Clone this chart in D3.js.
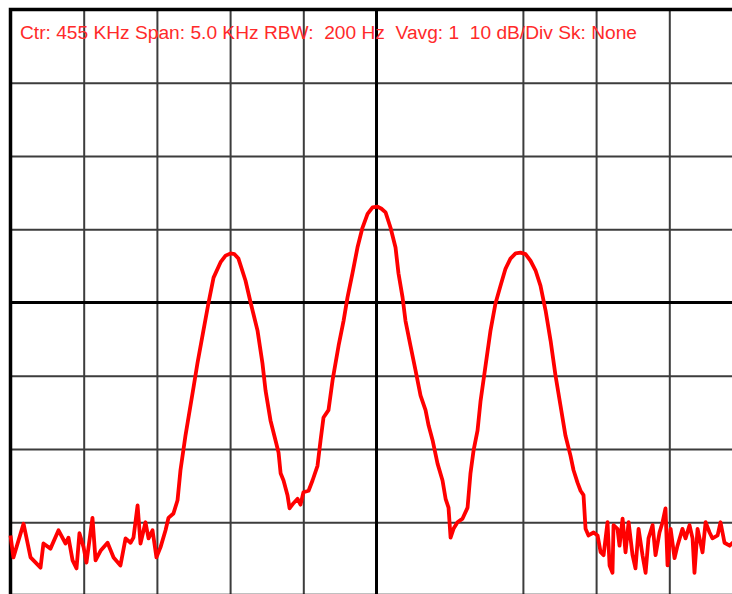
<!DOCTYPE html>
<html>
<head>
<meta charset="utf-8">
<script src="https://cdn.jsdelivr.net/npm/d3@7"></script>
<style>
  html, body { margin: 0; padding: 0; background: #fff; }
  svg { display: block; }
  .grid line { stroke: #3c3c3c; stroke-width: 2; }
  .grid path { display: none; }
  .header { font-family: "Liberation Sans", Arial, sans-serif; font-size: 18px; fill: #ff2a2a; }
</style>
</head>
<body>
<div id="chart"></div>
<script>
document.addEventListener("DOMContentLoaded", () => {
    // trace: frequency (kHz) and level (dB, top line = 0)
    var freqKHz = [
        452.500, 452.520, 452.589, 452.637, 452.705, 452.725, 452.773, 452.828, 452.876, 452.896,
        452.924, 452.951, 452.971, 452.999, 453.019, 453.060, 453.081, 453.115, 453.163, 453.204,
        453.251, 453.286, 453.320, 453.340, 453.368, 453.388, 453.422, 453.443, 453.470, 453.497,
        453.525, 453.559, 453.579, 453.613, 453.641, 453.661, 453.695, 453.750, 453.777, 453.818,
        453.853, 453.887, 453.935, 453.969, 454.003, 454.030, 454.057, 454.105, 454.140, 454.187,
        454.221, 454.242, 454.276, 454.310, 454.331, 454.345, 454.365, 454.392, 454.406, 454.433,
        454.461, 454.481, 454.501, 454.536, 454.563, 454.597, 454.618, 454.638, 454.672, 454.700,
        454.741, 454.775, 454.802, 454.836, 454.870, 454.904, 454.939, 454.973, 455.007, 455.034,
        455.062, 455.096, 455.130, 455.150, 455.178, 455.198, 455.232, 455.267, 455.301, 455.335,
        455.356, 455.383, 455.417, 455.451, 455.472, 455.492, 455.506, 455.526, 455.553, 455.588,
        455.622, 455.642, 455.663, 455.690, 455.711, 455.745, 455.779, 455.813, 455.847, 455.881,
        455.915, 455.950, 455.984, 456.018, 456.052, 456.086, 456.120, 456.155, 456.189, 456.223,
        456.257, 456.291, 456.325, 456.346, 456.373, 456.394,
        456.414, 456.428, 456.448, 456.483, 456.510, 456.531, 456.551, 456.578, 456.592, 456.612,
        456.619, 456.646, 456.660, 456.681, 456.701, 456.722, 456.749, 456.769, 456.790, 456.817,
        456.838, 456.858, 456.886, 456.906, 456.933, 456.954, 456.974, 456.988, 457.009, 457.036,
        457.056, 457.090, 457.111, 457.138, 457.159, 457.172, 457.193, 457.227, 457.248, 457.275,
        457.295, 457.330, 457.350, 457.377, 457.412, 457.432, 457.500
    ];
    var levelDb = [
        -71.8, -74.8, -70.2, -74.8, -76.2, -72.9, -73.6, -71.1, -72.9, -72.1,
        -75.2, -76.3, -71.5, -73.4, -75.5, -69.4, -75.2, -73.9, -72.8, -74.8,
        -75.9, -72.2, -72.8, -72.1, -67.7, -72.9, -70.0, -72.2, -71.1, -74.8,
        -73.4, -71.1, -69.4, -68.8, -67.0, -62.9, -58.2, -51.6, -48.3, -43.8,
        -40.0, -36.6, -34.5, -33.6, -33.3, -33.4, -34.0, -37.0, -40.0, -43.8,
        -48.3, -52.0, -56.1, -58.8, -60.5, -63.3, -64.3, -66.3, -68.1, -67.4,
        -66.8, -67.6, -65.9, -65.7, -64.3, -62.3, -58.8, -55.7, -54.7, -50.6,
        -45.9, -42.5, -39.3, -36.0, -32.5, -29.8, -27.9, -27.0, -26.9, -27.2,
        -27.7, -29.8, -32.5, -36.0, -39.3, -42.5, -45.9, -49.3, -52.7, -54.7,
        -56.8, -58.8, -62.0, -64.3, -66.8, -68.0, -72.1, -70.9, -70.0, -69.5,
        -68.0, -63.3, -60.2, -57.5, -53.4, -48.6, -43.8, -40.1, -37.7, -35.4,
        -34.0, -33.3, -33.2, -33.4, -34.3, -35.6, -37.7, -41.1, -45.2, -50.0,
        -54.1, -58.2, -60.9, -62.9, -64.6, -65.7,
        -66.3, -70.9, -71.8, -71.4, -71.8, -74.1, -74.5, -70.0, -75.9, -76.9,
        -70.4, -70.9, -73.2, -69.5, -74.1, -70.0, -74.5, -76.3, -70.9, -74.5,
        -76.9, -72.2, -70.4, -74.5, -71.4, -70.0, -68.1, -75.9, -70.9, -74.9,
        -73.2, -70.9, -72.2, -70.4, -72.2, -76.9, -70.9, -74.1, -70.0, -71.4,
        -72.2, -71.8, -70.0, -72.8, -73.2, -72.8, -73.2
    ];

    var freqTicks = [453.0, 453.5, 454.0, 454.5, 456.0, 456.5, 457.0];
    var levelTicks = [-10, -20, -30, -50, -60, -70];
    var centerFreq = 455.0;
    var centerLevel = -40;
    var header = "Ctr: 455 KHz Span: 5.0 KHz RBW:\u00a0\u00a0200 Hz\u00a0\u00a0Vavg: 1\u00a0\u00a010 dB/Div Sk: None";

    var width = 732;
    var height = 594;

    var x = d3.scaleLinear().domain([452.5, 457.5]).range([10.5, 742.5]);
    var y = d3.scaleLinear().domain([0, -80]).range([9.5, 595.5]);

    var svg = d3.select("#chart")
        .append("svg")
        .attr("width", width)
        .attr("height", height);

    svg.append("g")
        .attr("class", "grid")
        .attr("transform", `translate(0,${y(0)})`)
        .call(d3.axisTop(x).tickValues(freqTicks).tickSize(-(y(-80) - y(0))).tickFormat(""));

    svg.append("g")
        .attr("class", "grid")
        .attr("transform", `translate(${x(452.5)},0)`)
        .call(d3.axisLeft(y).tickValues(levelTicks).tickSize(-(x(457.5) - x(452.5))).tickFormat(""));

    // centre cross
    svg.append("line")
        .attr("x1", x(centerFreq)).attr("x2", x(centerFreq))
        .attr("y1", y(0)).attr("y2", y(-80))
        .attr("stroke", "#000").attr("stroke-width", 3);
    svg.append("line")
        .attr("x1", x(452.5)).attr("x2", x(457.5))
        .attr("y1", y(centerLevel)).attr("y2", y(centerLevel))
        .attr("stroke", "#000").attr("stroke-width", 3);

    // outer frame
    svg.append("rect")
        .attr("x", x(452.5)).attr("y", y(0))
        .attr("width", x(457.5) - x(452.5))
        .attr("height", y(-80) - y(0))
        .attr("fill", "none")
        .attr("stroke", "#000")
        .attr("stroke-width", 3.5);

    svg.append("text")
        .attr("class", "header")
        .attr("x", 20)
        .attr("y", 39)
        .attr("textLength", 617)
        .attr("lengthAdjust", "spacingAndGlyphs")
        .text(header);

    var trace = freqKHz.map((f, i) => [f, levelDb[i]]);

    svg.append("path")
        .datum(trace)
        .attr("fill", "none")
        .attr("stroke", "#ff0000")
        .attr("stroke-width", 3.8)
        .attr("stroke-linejoin", "round")
        .attr("d", d3.line().x(d => x(d[0])).y(d => y(d[1])));
});
</script>
</body>
</html>
